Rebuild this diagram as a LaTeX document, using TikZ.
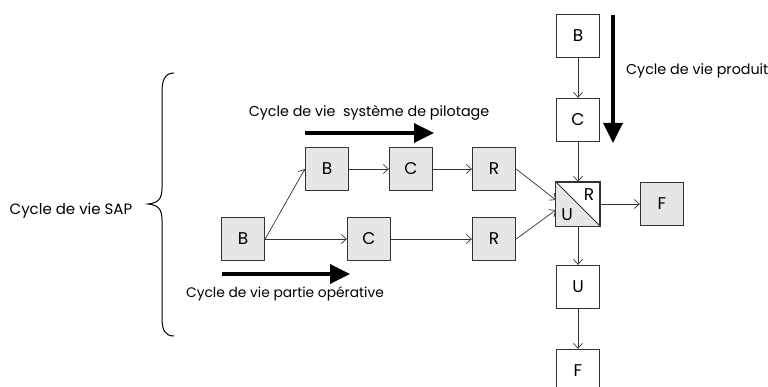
\documentclass[tikz,border=0pt]{standalone}
\usepackage{fontspec}
\setmainfont{Poppins}
\usetikzlibrary{arrows.meta}
\definecolor{boxgray}{RGB}{230,230,230}
\tikzset{
  stage/.style={draw=black!80, line width=0.8pt, minimum width=43.5pt, minimum height=43.5pt,
    inner sep=0pt, font=\fontsize{17}{17}\selectfont},
  grey stage/.style={stage, fill=boxgray},
  link/.style={draw=black!80, line width=0.7pt, -{Straight Barb[length=5pt,width=9pt]}},
  bigarrow/.style={line width=3.5pt, -{Triangle[length=20pt,width=19pt]}},
  caption/.style={font=\fontsize{14.3}{16}\selectfont, inner sep=0pt}
}
\begin{document}
\begin{tikzpicture}[x=1pt,y=-1pt]
\useasboundingbox (0,0) rectangle (768,387);

% operative part and control system branches
\node[grey stage] (b0) at (243,239) {B};
\node[grey stage] (b1) at (327,169) {B};
\node[grey stage] (c1) at (411,169) {C};
\node[grey stage] (r1) at (494,169) {R};
\node[grey stage] (c2) at (369,239) {C};
\node[grey stage] (r2) at (494,239) {R};

% product column
\node[stage] (pb) at (578,36) {B};
\node[stage] (pc) at (578,120) {C};
\node[stage] (ur) at (578,204) {};
\fill[boxgray] (ur.north west) -- (ur.south east) -- (ur.south west) -- cycle;
\draw[draw=black!80, line width=0.8pt] (ur.north west) rectangle (ur.south east);
\draw[draw=black!80, line width=0.8pt] (ur.north west) -- (ur.south east);
\node[font=\fontsize{17}{17}\selectfont] (ulab) at (567,215) {U};
\node[font=\fontsize{17}{17}\selectfont] (rlab) at (589,195) {R};
\node[grey stage] (fr) at (662,204) {F};
\node[stage] (pu) at (578,287) {U};
\node[stage] (pf) at (578,371) {F};

% connectors
\draw[link] (b0.east) -- (b1.west);
\draw[link] (b0.east) -- (c2.west);
\draw[link] (b1) -- (c1);
\draw[link] (c1) -- (r1);
\draw[link] (c2) -- (r2);
\draw[link] (r1.east) -- ([yshift=4pt]ur.west);
\draw[link] (r2.east) -- ([yshift=-6pt]ur.west);
\draw[link] (pb) -- (pc);
\draw[link] (pc) -- (ur);
\draw[link] (ur) -- (fr);
\draw[link] (ur) -- (pu);
\draw[link] (pu) -- (pf);

% life-cycle arrows
\coordinate (s1) at (305,133); \coordinate (e1) at (434,133);
\coordinate (s2) at (222,274); \coordinate (e2) at (350,274);
\coordinate (s3) at (613,15);  \coordinate (e3) at (613,143);
\draw[bigarrow] (s1) -- (e1);
\draw[bigarrow] (s2) -- (e2);
\draw[bigarrow] (s3) -- (e3);

\node[caption] (t1) at (369,113) {Cycle de vie\ \ système de pilotage};
\node[caption, font=\fontsize{13.8}{16}\selectfont] (t2) at (285,294) {Cycle de vie partie opérative};
\node[caption, anchor=west] (t3) at (626,71) {Cycle de vie produit};
\node[caption, font=\fontsize{15}{16}\selectfont] (t4) at (71,211) {Cycle de vie SAP};

% brace grouping the whole system
\draw[line width=1pt] (174,73) .. controls (165,73) and (162,80) .. (162,92)
  -- (162,188) .. controls (162,199) and (158,203) .. (148,204)
  .. controls (158,205) and (162,209) .. (162,220)
  -- (162,318) .. controls (162,330) and (165,336) .. (174,336);
\end{tikzpicture}
\end{document}
